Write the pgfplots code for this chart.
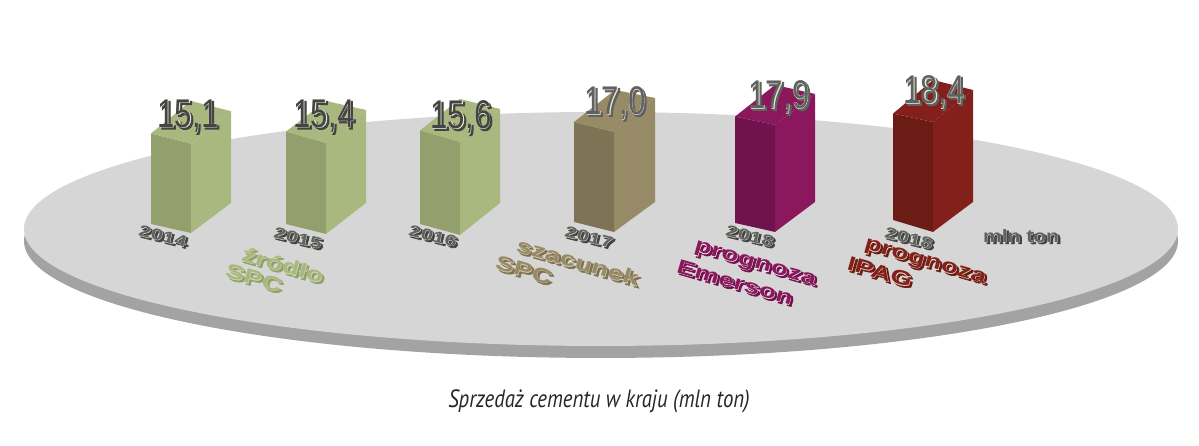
\documentclass[border=0pt]{standalone}
\usepackage{fontspec}
\setmainfont{PT Sans}
\newfontfamily\ff{Liberation Sans}
\newfontfamily\ffrim{Liberation Sans}[FakeBold=1.2]
\newfontfamily\ffext{Liberation Sans}[FakeBold=3.5]
\usepackage{pgfplots}
\pgfplotsset{compat=1.18}
\definecolor{discTop}{HTML}{D6D6D7}
\definecolor{discSide}{HTML}{A3A2A4}
\definecolor{greenA}{HTML}{939F6D}
\definecolor{greenB}{HTML}{A8B87E}
\definecolor{tanA}{HTML}{7F7355}
\definecolor{tanB}{HTML}{978A66}
\definecolor{purpA}{HTML}{70134D}
\definecolor{purpB}{HTML}{8B185C}
\definecolor{redA}{HTML}{6B1C14}
\definecolor{redB}{HTML}{84201B}
\definecolor{darkT}{HTML}{444444}
\definecolor{greyT}{HTML}{5F6260}
\definecolor{creamT}{HTML}{EFEBD2}
\definecolor{tanT}{HTML}{D8CFAE}
\definecolor{greenT}{HTML}{D3DDB0}

\tikzset{
    val/.style={font=\ff\fontsize{20}{20}\selectfont, xscale=0.78, transform shape, inner sep=0pt},
    yr/.style={font=\ff\bfseries\fontsize{11}{11}\selectfont, rotate=-14, yscale=0.72, transform shape, inner sep=0pt},
    un/.style={font=\ff\bfseries\fontsize{10.5}{11}\selectfont, yscale=0.85, transform shape, inner sep=0pt},
    lab/.style={font=\ff\bfseries\fontsize{14}{14}\selectfont, rotate=-16, yscale=0.72, transform shape, inner sep=0pt},
}

% extruded text: x, y, node style, extrusion colour, rim colour, face colour, text
\newcommand{\ext}[7]{%
  \node[#3,text=#4,xshift=1.2pt,yshift=-0.9pt] at (axis cs:#1,#2) {\ffext #7};
  \node[#3,text=#5] at (axis cs:#1,#2) {\ffrim #7};
  \node[#3,text=#6] at (axis cs:#1,#2) {#7};
}

\begin{document}
\begin{tikzpicture}
\begin{axis}[
    scale only axis,
    x=0.5pt, y=3pt,
    xmin=0, xmax=1199,
    ymin=-37, ymax=37.33,
    axis lines=none,
    clip=false,
]
% whole picture frame
\path (axis cs:0,-37) rectangle (axis cs:1199,37.33);
% disc
\fill[discSide] (axis cs:601,-2.83) ellipse [x radius=577, y radius=19.5];
\fill[discTop] (axis cs:601,-0.83) ellipse [x radius=577, y radius=19.5];

% 2014 - 15.1
\addplot[fill=greenA,draw=none] coordinates {(151,0) (151,15.1) (191,13.4) (191,-1.5)} --cycle;
\addplot[fill=greenB,draw=none] coordinates {(191,-1.5) (191,13.4) (231,18.8) (231,3.5)} --cycle;
\addplot[fill=greenB,draw=none] coordinates {(151,15.1) (191,13.4) (231,18.8) (191,20.5)} --cycle;
% 2015 - 15.4
\addplot[fill=greenA,draw=none] coordinates {(286,0) (286,15.4) (326,13.5) (326,-1.67)} --cycle;
\addplot[fill=greenB,draw=none] coordinates {(326,-1.67) (326,13.5) (366,19) (366,3.5)} --cycle;
\addplot[fill=greenB,draw=none] coordinates {(286,15.4) (326,13.5) (366,19) (326,20.5)} --cycle;
% 2016 - 15.6
\addplot[fill=greenA,draw=none] coordinates {(420,0) (420,15.6) (460,13.67) (460,-1.83)} --cycle;
\addplot[fill=greenB,draw=none] coordinates {(460,-1.83) (460,13.67) (500,19.17) (500,3.5)} --cycle;
\addplot[fill=greenB,draw=none] coordinates {(420,15.6) (460,13.67) (500,19.17) (460,20.83)} --cycle;
% 2017 - 17.0
\addplot[fill=tanA,draw=none] coordinates {(574,0.33) (574,17) (614,15.33) (614,-1.33)} --cycle;
\addplot[fill=tanB,draw=none] coordinates {(614,-1.33) (614,15.33) (655,21) (655,3.67)} --cycle;
\addplot[fill=tanB,draw=none] coordinates {(574,17) (614,15.33) (655,21) (615,22.33)} --cycle;
% 2018 Emerson - 17.9
\addplot[fill=purpA,draw=none] coordinates {(735,0.17) (735,17.9) (775,16.5) (775,-1.33)} --cycle;
\addplot[fill=purpB,draw=none] coordinates {(775,-1.33) (775,16.5) (815,21.67) (815,3.67)} --cycle;
\addplot[fill=purpB,draw=none] coordinates {(735,17.9) (775,16.5) (815,21.67) (775,23.17)} --cycle;
% 2018 IPAG - 18.4
\addplot[fill=redA,draw=none] coordinates {(893,0.67) (893,18.4) (933,17) (933,-1.33)} --cycle;
\addplot[fill=redB,draw=none] coordinates {(933,-1.33) (933,17) (973,22.33) (973,3.67)} --cycle;
\addplot[fill=redB,draw=none] coordinates {(893,18.4) (933,17) (973,22.33) (933,24)} --cycle;

% values
\ext{188}{18}{val}{darkT}{creamT}{darkT}{15,1}
\ext{324}{18}{val}{darkT}{creamT}{darkT}{15,4}
\ext{461}{17.83}{val}{darkT}{creamT}{darkT}{15,6}
\ext{615}{20.17}{val}{greyT}{creamT}{greyT}{17,0}
\ext{779}{21.17}{val}{greyT}{creamT}{greyT}{17,9}
\ext{934}{22}{val}{greyT}{creamT}{greyT}{18,4}

% years
\ext{163}{-2}{yr}{darkT}{creamT}{greyT}{2014}
\ext{298}{-2.33}{yr}{darkT}{creamT}{greyT}{2015}
\ext{433}{-2}{yr}{darkT}{creamT}{greyT}{2016}
\ext{589}{-2.17}{yr}{darkT}{creamT}{greyT}{2017}
\ext{750}{-2}{yr}{darkT}{creamT}{greyT}{2018}
\ext{909}{-2.33}{yr}{darkT}{creamT}{greyT}{2018}
\ext{1021}{-2}{un}{darkT}{creamT}{greyT}{mln ton}

% series labels
\ext{283}{-6.83}{lab}{greenA}{greenT}{greenB}{źródło}
\ext{254}{-9}{lab}{greenA}{greenT}{greenB}{SPC}
\ext{578}{-6.33}{lab}{tanA}{tanT}{tanB}{szacunek}
\ext{524}{-7.67}{lab}{tanA}{tanT}{tanB}{SPC}
\ext{755}{-6.83}{lab}{purpA}{white}{purpB}{prognoza}
\ext{735}{-9.67}{lab}{purpA}{white}{purpB}{Emerson}
\ext{925}{-6.5}{lab}{redA}{creamT}{redB}{prognoza}
\ext{880}{-8}{lab}{redA}{creamT}{redB}{IPAG}

\node[font=\itshape\fontsize{12.5}{13}\selectfont,text=black!85,xscale=0.83,transform shape] at (axis cs:599,-29.5) {Sprzedaż cementu w kraju (mln ton)};
\end{axis}
\end{tikzpicture}
\end{document}
